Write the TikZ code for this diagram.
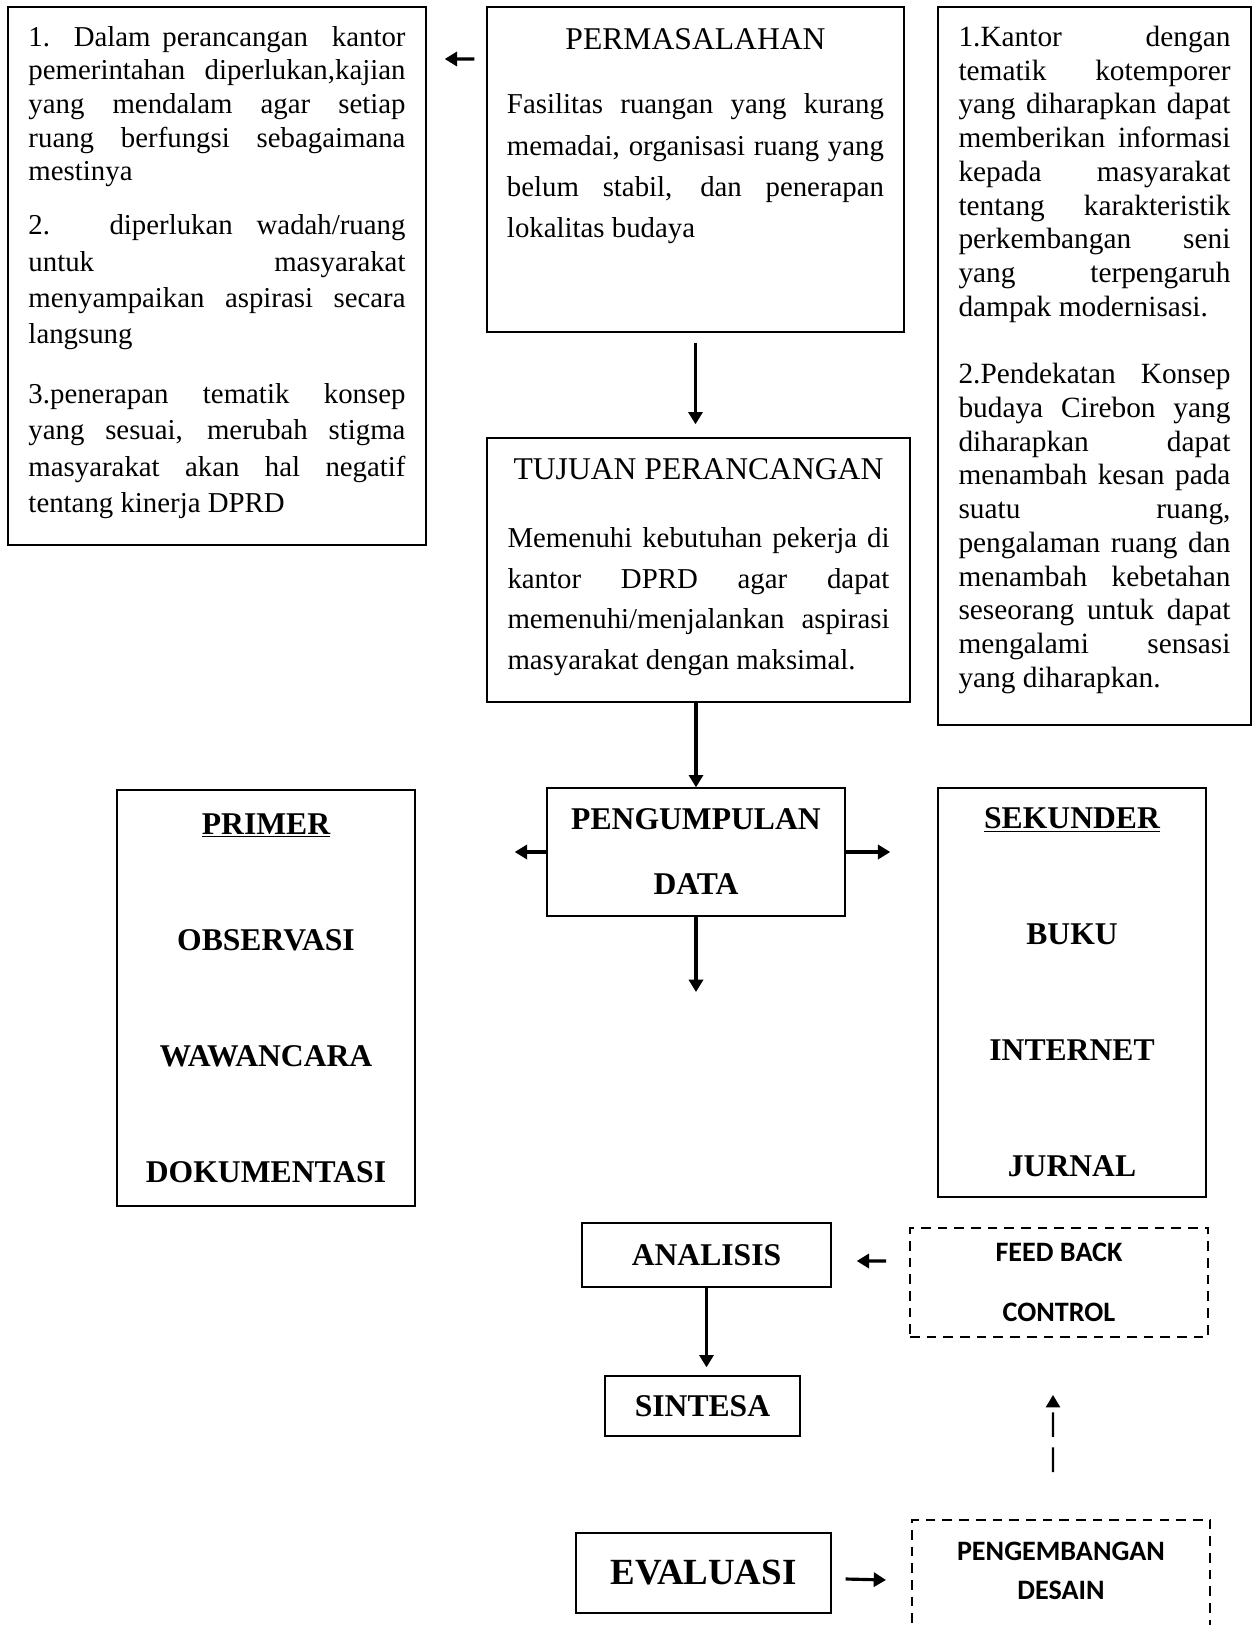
\documentclass[tikz,border=0pt]{standalone}
\usepackage{fontspec}
\setmainfont{Liberation Serif}
\newfontfamily\kalibri{Carlito}
\usetikzlibrary{arrows.meta}

\tikzset{
  kotak/.style={draw, line width=0.8pt},
  putus/.style={draw, line width=1.1pt, dash pattern=on 5.5pt off 4pt},
  panah/.style={-{Triangle[length=7pt,width=8pt]}, line width=1.8pt},
  teks/.style={font=\bfseries\fontsize{18}{#1}\selectfont},
  teks/.default=22,
}

\begin{document}
\begin{tikzpicture}[x=0.2mm, y=-0.2mm]
\useasboundingbox (0,0) rectangle (1253,1625);
\clip (0,0) rectangle (1253,1625);
% kotak bagian atas
\node[kotak, inner xsep=4.1mm, inner ysep=3.8mm] (catatan) at (217,276) {\parbox[c][100mm][t]{75.4mm}{\fontsize{16.4}{19.2}\selectfont\tolerance=10000\hyphenpenalty=10000
1. Dalam perancangan\ \ kantor\linebreak pemerintahan diperlukan,kajian\linebreak yang mendalam agar setiap\linebreak ruang berfungsi sebagaimana\linebreak mestinya\par
\fontsize{16.4}{20.6}\selectfont\vspace{10.1pt}
2. diperlukan wadah/ruang\linebreak untuk masyarakat\linebreak menyampaikan aspirasi secara\linebreak langsung\par
\vspace{13.6pt}
3.penerapan tematik konsep\linebreak yang sesuai, merubah stigma\linebreak masyarakat akan hal negatif\linebreak tentang kinerja DPRD}};
\node[kotak, inner xsep=4mm, inner ysep=4.3mm] (masalah) at (695.5,169.5) {\parbox[c][56.4mm][t]{75.4mm}{{\centering\fontsize{18}{20}\selectfont PERMASALAHAN\par}\vspace{13.1pt}\fontsize{16.4}{23.5}\selectfont\tolerance=10000\hyphenpenalty=10000
Fasilitas ruangan yang kurang\linebreak memadai, organisasi ruang yang\linebreak belum stabil, dan penerapan\linebreak lokalitas budaya}};
\node[kotak, inner xsep=4.1mm, inner ysep=3.8mm] (konsep) at (1094.5,366) {\parbox[c][136mm][t]{54.4mm}{\fontsize{16.7}{19.2}\selectfont\tolerance=10000\hyphenpenalty=10000
1.Kantor dengan\linebreak tematik kotemporer\linebreak yang diharapkan dapat\linebreak memberikan informasi\linebreak kepada masyarakat\linebreak tentang karakteristik\linebreak perkembangan seni\linebreak yang terpengaruh\linebreak dampak modernisasi.\par\vspace{\baselineskip}
2.Pendekatan Konsep\linebreak budaya Cirebon yang\linebreak diharapkan dapat\linebreak menambah kesan pada\linebreak suatu ruang,\linebreak pengalaman ruang dan\linebreak menambah kebetahan\linebreak seseorang untuk dapat\linebreak mengalami sensasi\linebreak yang diharapkan.}};
\node[kotak, inner xsep=4.1mm, inner ysep=4.1mm] (tujuan) at (698.5,570) {\parbox[c][44.6mm][t]{76.4mm}{{\centering\fontsize{18}{20}\selectfont TUJUAN PERANCANGAN\par}\vspace{15.9pt}\fontsize{16.4}{23}\selectfont\tolerance=10000\hyphenpenalty=10000
Memenuhi kebutuhan pekerja di\linebreak kantor DPRD agar dapat\linebreak memenuhi/menjalankan aspirasi\linebreak masyarakat dengan maksimal.}};
% pengumpulan data
\node[kotak, teks=37, minimum width=59.6mm, minimum height=25.6mm, align=center] (kumpul) at (696,852) {PENGUMPULAN\\DATA};
\node[kotak, teks=66, minimum width=59.6mm, minimum height=83.2mm, align=center] (primer) at (266,998) {\underline{PRIMER}\\OBSERVASI\\WAWANCARA\\DOKUMENTASI};
\node[kotak, teks=66, minimum width=53.6mm, minimum height=81.8mm, align=center] (sekunder) at (1072,992.5) {\underline{SEKUNDER}\\BUKU\\INTERNET\\JURNAL};
% analisis sampai evaluasi
\node[kotak, teks, minimum width=49.8mm, minimum height=12.8mm] (analisis) at (706.5,1255) {ANALISIS};
\node[kotak, teks, minimum width=39mm, minimum height=12mm] (sintesa) at (702.5,1406) {SINTESA};
\node[kotak, minimum width=51mm, minimum height=16mm, font=\bfseries\fontsize{21}{24}\selectfont] (evaluasi) at (703.5,1573) {EVALUASI};
\node[putus, minimum width=59.6mm, minimum height=21.8mm, align=center, font=\kalibri\bfseries\fontsize{16}{34}\selectfont] (umpan) at (1059,1282.5) {FEED BACK\\CONTROL};
\node[putus, anchor=north, inner xsep=0pt, inner ysep=4.4mm] (kembang) at (1061,1519) {\parbox[c][23.6mm][t]{59.6mm}{\centering\kalibri\bfseries\fontsize{16}{22}\selectfont PENGEMBANGAN\\DESAIN}};
% panah
\draw[panah] ([xshift=-2.4mm,yshift=22.1mm]masalah.west) -- ([xshift=3.6mm,yshift=43.4mm]catatan.east);
\draw[panah, shorten <=2mm, shorten >=2.6mm] (masalah.south) -- (masalah.south |- tujuan.north);
\draw[panah] (kumpul.north |- tujuan.south) -- (kumpul.north);
\draw[panah, shorten >=19.8mm] (kumpul.west) -- (primer.east |- kumpul.west);
\draw[panah, shorten >=9.4mm] (kumpul.east) -- (sekunder.west |- kumpul.east);
\coordinate (lanjut) at (696,992);
\draw[panah] (kumpul.south) -- (lanjut);
\draw[panah, shorten >=1.6mm] (analisis.south) -- (analisis.south |- sintesa.north);
\draw[panah] ([xshift=-4.6mm,yshift=4.3mm]umpan.west) -- ([xshift=5mm,yshift=-1.2mm]analisis.east);
\draw[panah, line width=1.2pt, dash pattern=on 14pt off 6pt] ([xshift=-1.6mm,yshift=9.4mm]kembang.north) -- ([xshift=-1.2mm,yshift=-11.4mm]umpan.south);
\draw[panah] ([xshift=2.8mm,yshift=-1.2mm]evaluasi.east) -- ([xshift=-5mm,yshift=4.2mm]kembang.west);
\end{tikzpicture}
\end{document}
